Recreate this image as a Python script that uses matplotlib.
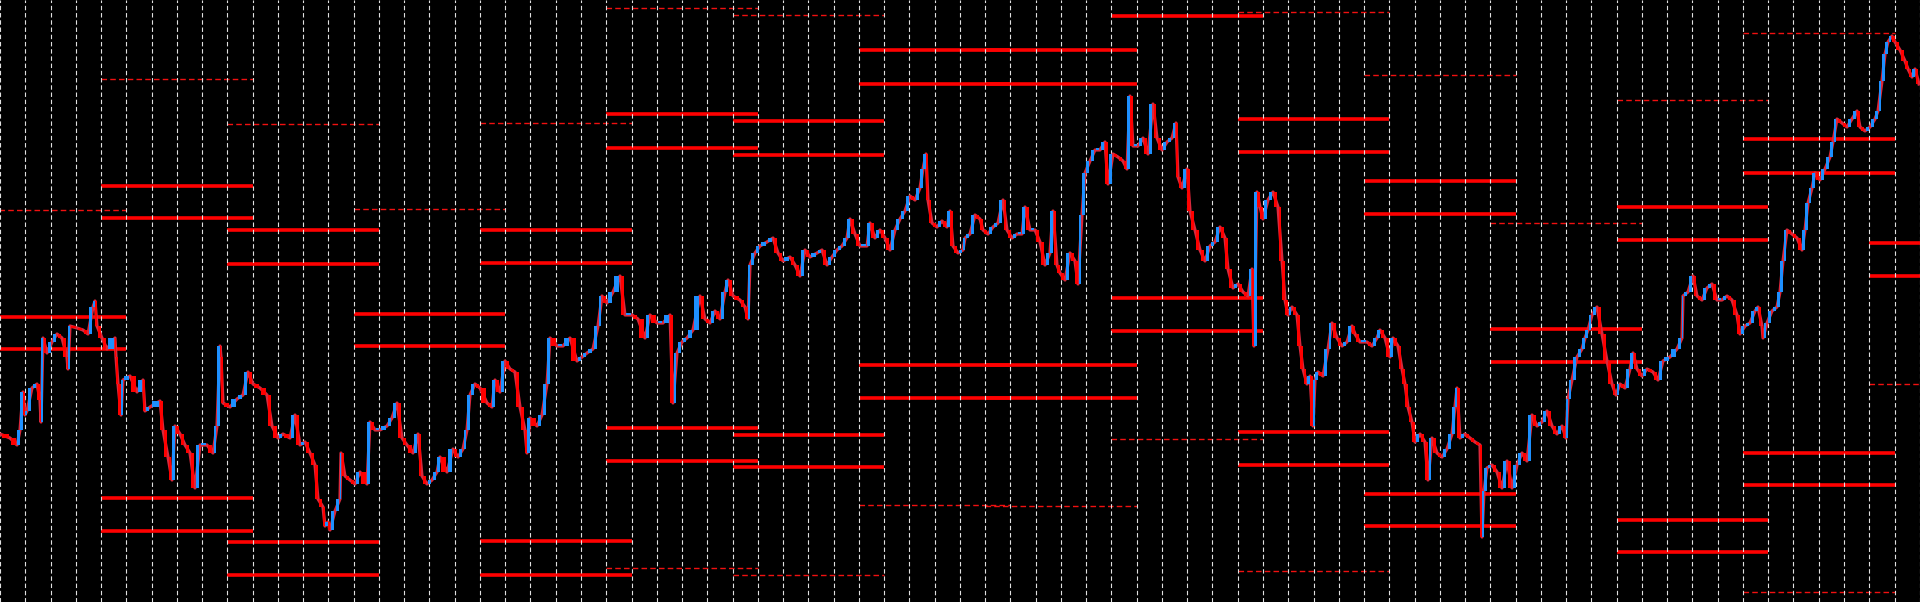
import numpy as np
import matplotlib.pyplot as plt

# Weekly pivot levels (price given as chart height, nan = off screen)
week_start_day = [-1, 4, 9, 14, 19, 24, 29, 34, 39, 44, 49, 54, 59, 64, 69, 74]
nan = np.nan
r3 = [391.6, 523.3, 477.6, 393.5, 478.8, 593.6, 587.4, nan, nan, nan, 590.1, 527.1, 378.9, 501.8, 569.0, nan]
r2 = [284.9, 416.2, 371.6, 288.3, 371.6, 487.6, 480.7, 551.7, 551.7, nan, 483.0, 420.8, 272.6, 394.7, 463.0, nan]
r1 = [252.6, 383.9, 337.9, 255.7, 339.0, 453.8, 447.3, 517.9, 517.9, 586.3, 450.0, 388.5, 240.0, 362.0, 429.2, nan]
s1 = [nan, 104.0, 59.9, nan, 60.7, 173.9, 167.4, 236.9, 236.9, 304.1, 170.5, 108.3, nan, 82.5, 149.3, 359.0]
s2 = [nan, 71.4, 27.3, nan, 27.3, 141.3, 134.8, 203.9, 203.9, 270.7, 136.7, 75.6, nan, 50.3, 116.7, 325.6]
s3 = [nan, nan, nan, nan, nan, 33.8, 27.3, 96.7, 96.0, 163.2, 30.7, nan, nan, nan, 9.6, 218.1]

# price path: bar index and close
price_bar = [0, 10, 17, 20, 23, 25, 27, 32, 37, 40, 41, 43, 47, 52, 57, 62, 67, 68, 70, 77, 83, 88, 93, 95, 97, 102,
             107, 115, 116, 118, 121, 123, 130, 137, 143, 145, 150, 160, 163, 168, 172, 175, 180, 185, 190, 195, 200,
             207, 213, 217, 220, 221, 223, 230, 237, 243, 248, 253, 260, 267, 272, 278, 283, 290, 295, 300, 305, 310,
             315, 318, 323, 325, 328,
             330, 335, 340, 341, 345, 350, 355, 360, 367, 370, 375, 380, 387, 392, 397, 402, 407, 413, 418, 422, 427,
             432, 437, 440, 447, 453, 458, 463, 467, 470, 475, 480, 487, 492, 495, 500, 505, 510, 515, 520, 525, 527,
             530, 537, 542, 547, 550, 557, 563, 570, 577, 582, 587, 593, 598, 602, 607, 613, 620, 625, 632, 638, 645,
             650,
             657, 663, 670, 673, 677, 682, 687, 693, 700, 705, 710, 715, 720, 725, 728, 733, 740, 745, 748, 750, 755,
             760, 767, 773, 778, 783, 790, 795, 800, 805, 810, 817, 822, 827, 832, 837, 842, 847, 850, 855, 860, 867,
             870, 875, 880, 885, 890, 895, 900, 905, 910, 915, 920, 923, 926, 928, 932, 937, 942, 947, 950, 953, 958,
             963, 965, 970, 975, 980, 983, 988, 993, 998, 1003, 1007, 1012, 1017, 1022, 1025, 1030, 1035, 1040, 1045,
             1050, 1053, 1057, 1060, 1065, 1070, 1075, 1078, 1082, 1085, 1090, 1095, 1100, 1105, 1108, 1113, 1118,
             1123, 1127, 1130, 1133, 1138, 1143, 1148, 1153, 1157, 1162, 1167, 1172, 1176, 1178, 1182, 1187, 1190,
             1195, 1200, 1205, 1210, 1215, 1220, 1225, 1228, 1233, 1238, 1243, 1248, 1252, 1254, 1257, 1260, 1263,
             1268, 1273, 1278, 1282, 1285, 1288,
             1292, 1297, 1300, 1303, 1307, 1310, 1313, 1315, 1318, 1323, 1328, 1332, 1337, 1342, 1347, 1352, 1355,
             1360, 1367, 1372, 1377, 1380, 1385, 1390, 1393, 1398, 1402, 1405, 1408, 1412, 1415, 1420, 1425, 1428,
             1432, 1437, 1442, 1447, 1452, 1455, 1457, 1460, 1465, 1470, 1475, 1480, 1482, 1484, 1487, 1492, 1497,
             1502, 1507, 1512, 1517, 1522, 1527, 1532, 1537, 1542, 1547, 1552, 1557, 1562, 1566, 1568, 1572, 1577,
             1582, 1585, 1588, 1592, 1597,
             1602, 1607, 1612, 1616, 1620, 1625, 1630, 1633, 1637, 1642, 1647, 1653, 1658, 1663, 1670, 1677, 1682,
             1683, 1688, 1693, 1697, 1702, 1707, 1712, 1717, 1722, 1727, 1732, 1737, 1740, 1745, 1750, 1755, 1758,
             1762, 1763, 1767, 1772, 1777, 1780, 1783, 1787, 1792, 1797, 1802, 1805, 1808, 1812, 1815, 1820, 1825,
             1830, 1833, 1837, 1842, 1847, 1852, 1857, 1860, 1865, 1870, 1875, 1878, 1882, 1885, 1888, 1892, 1895,
             1900, 1905, 1908, 1912, 1915, 1919]
price_close = [168, 164, 157, 172, 210, 187, 191, 214, 218, 202, 180, 264, 249, 260, 268, 264, 245, 233, 276, 274, 272,
               268, 295, 301, 276, 264, 253, 264, 245, 218, 187, 222, 226, 210, 222, 191, 195, 201, 172, 145, 122, 176,
               168, 157, 149, 114, 157, 157, 149, 176, 256, 245, 199, 195, 203, 207, 230, 218, 214, 207, 176, 164, 168,
               164, 187, 157, 160, 149, 137, 103, 95, 76, 80,
               72, 91, 103, 149, 126, 122, 118, 130, 118, 180, 172, 172, 176, 184, 199, 164, 157, 149, 168, 126, 118,
               122, 130, 145, 130, 153, 145, 153, 172, 207, 218, 214, 199, 195, 222, 210, 241, 233, 230, 195, 172, 149,
               184, 176, 187, 218, 264, 256, 256, 264, 241, 245, 249, 253, 276, 306, 299, 310, 326, 287, 287, 283, 264,
               287,
               279, 279, 287, 199, 249, 260, 264, 272, 306, 283, 279, 291, 283, 310, 322, 306, 302, 295, 283, 337, 349,
               356, 360, 364, 349, 341, 345, 337, 326, 352, 345, 349, 352, 337, 345, 352, 356, 364, 383, 368, 356, 356,
               379, 364, 372, 364, 352, 372, 383, 391, 406, 402, 414, 433, 448, 402, 379, 375, 381, 375, 391, 356, 349,
               352, 364, 368, 387, 383, 372, 368, 375, 379, 402, 372, 364, 368, 368, 395, 372, 372, 360, 337,
               349, 391, 337, 329, 322, 349, 341, 318, 387, 429, 441, 452, 452, 460, 418, 448, 445,
               441, 433, 506, 456, 456, 464, 448, 498, 464, 452, 460, 464, 479, 425, 414, 433, 391,
               372, 352, 341, 356, 360, 375, 364, 333, 314, 318, 310, 306, 333, 256, 410, 395, 383,
               402, 410, 395, 341, 302, 287,
               295, 287, 256, 233, 218, 226, 176, 222, 230, 226, 253, 279, 264, 256, 260, 276, 268,
               260, 260, 256, 264, 272, 264, 245, 264, 256, 233, 218, 195, 180, 160, 168, 160, 122,
               164, 149, 145, 153, 168, 195, 214, 164, 168, 164, 160, 157, 65, 111, 134, 137, 130,
               114, 141, 114, 137, 149, 141, 187, 176, 180, 191, 176, 168, 176, 164, 203, 222, 245,
               253, 264, 272, 287, 295,
               268, 241, 218, 207, 218, 214, 233, 249, 233, 226, 233, 230, 222, 241, 245, 253, 264,
               306, 310, 326, 306, 302, 314, 318, 302, 302, 306, 302, 287, 268, 276, 279, 291, 295,
               276, 264, 279, 291, 295, 310, 341, 372, 368, 364, 352, 372, 399, 414, 429, 422, 433,
               445, 460, 483, 479, 475, 483, 491, 475, 471, 475, 483, 491, 521, 548, 560, 566, 560,
               552, 541, 533, 525, 533, 518]

DAY = 25.26  # bars between two grid lines
SPAN = 6     # days each weekly level stays on the chart

fig = plt.figure(figsize=(19.2, 6.02), dpi=100, facecolor='black')
ax = fig.add_axes([0, 0, 1, 1], facecolor='black')

# vertical day grid
ax.set_xticks(np.arange(0, 77) * DAY)
ax.grid(axis='x', color='#e0e0e0', linestyle=(0, (4.0, 2.5)), linewidth=0.8, zorder=2)
ax.set_axisbelow(False)
ax.tick_params(length=0, labelbottom=False, labelleft=False)
ax.set_yticks([])
for s in ax.spines.values():
    s.set_visible(False)

# pivot levels
for i, d in enumerate(week_start_day):
    x0, x1 = d * DAY, (d + SPAN) * DAY
    for lv in (r2[i], r1[i], s1[i], s2[i]):
        if not np.isnan(lv):
            ax.hlines(lv, x0, x1, colors='#ff0000', linewidth=2.6, zorder=1)
    for lv in (r3[i], s3[i]):
        if not np.isnan(lv):
            ax.hlines(lv, x0, x1, colors='#f01010', linewidth=1.0,
                      linestyles=(0, (4.0, 2.3)), zorder=1)

# price: connecting line under up/down candle bodies
t = np.array(price_bar, dtype=float)
c = np.array(price_close, dtype=float)
ax.plot(t, c, color='#d8283c', linewidth=2.3, zorder=3)
o = c[:-1]
cl = c[1:]
up = cl >= o
bottom = np.minimum(o, cl)
height = np.maximum(np.abs(cl - o), 2.0)
left = t[:-1]
width = t[1:] - t[:-1]
cols = np.where(up, '#1e90ff', '#ff0000')
ax.bar(left + width * 0.15, height, width=width * 0.7, bottom=bottom, align='edge',
       color=cols, linewidth=0, zorder=4)

ax.set_xlim(0, 1920)
ax.set_ylim(0, 602)

plt.savefig('out.png', dpi=100, facecolor='black')
